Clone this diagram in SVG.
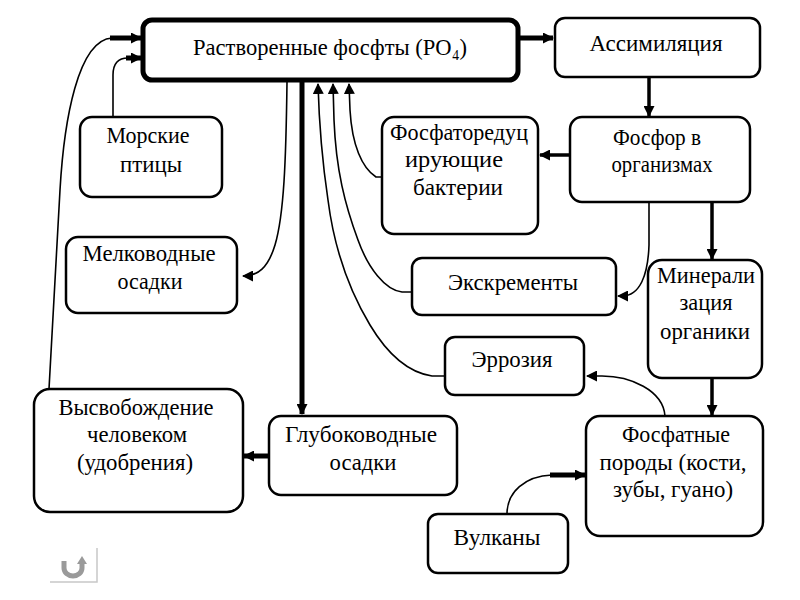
<svg xmlns="http://www.w3.org/2000/svg" width="800" height="600" viewBox="0 0 800 600">
<style>
.box{fill:#fff;stroke:#000;stroke-width:2.5}
.main{fill:#fff;stroke:#000;stroke-width:5}
text{font-family:'Liberation Serif','Times New Roman',serif;font-size:24px;fill:#000;text-anchor:middle}
.thin{fill:none;stroke:#000;stroke-width:1.6}
.thick{fill:none;stroke:#000;stroke-width:5}
.mid{fill:none;stroke:#000;stroke-width:3.5}
</style>
<defs>
<marker id="ah" markerUnits="userSpaceOnUse" markerWidth="11" markerHeight="11" refX="10" refY="5.5" orient="auto" viewBox="0 0 11 11">
<path d="M0,0 L11,5.5 L0,11 z" fill="#000"/>
</marker>
</defs>
<rect width="800" height="600" fill="#fff"/>

<g id="connectors">
<path class="thick" d="M520,38 L553,38" marker-end="url(#ah)"/>
<path class="mid" d="M649,77 L649,116" marker-end="url(#ah)"/>
<path class="mid" d="M570,155 L540,155" marker-end="url(#ah)"/>
<path class="mid" d="M712,202 L712,259" marker-end="url(#ah)"/>
<path class="thin" d="M649,202 L649,245 C648,275 640,296 622,296 L618,296" marker-end="url(#ah)"/>
<path class="mid" d="M712,378 L712,415" marker-end="url(#ah)"/>
<path class="thin" d="M665,416 C663,390 630,376 602,376 L587,376" marker-end="url(#ah)"/>
<path class="thin" d="M507,514 C507,492 525,476 552,475"/>
<path class="thick" d="M550,475 L585,475" marker-end="url(#ah)"/>
<path class="thin" d="M382,177 L376,177 C362,168 352,145 350,110 L349,84" marker-end="url(#ah)"/>
<path class="thin" d="M412,292 L402,292 C385,290 368,268 358,240 C345,205 336,170 334,120 L333,84" marker-end="url(#ah)"/>
<path class="thin" d="M445,376 L432,376 C405,372 385,350 370,325 C352,295 335,255 328,200 C322,160 319,120 318,84" marker-end="url(#ah)"/>
<path class="thin" d="M287,82 C286,160 284,215 275,245 C268,268 258,276 243,276" marker-end="url(#ah)"/>
<path class="thin" d="M113,117 L113,75 C113,64 118,58 128,58"/>
<path class="thick" d="M126,58 L141,58" marker-end="url(#ah)"/>
<path class="thin" d="M49,389 L60,190 C64,120 78,40 112,38"/>
<path class="thick" d="M110,38 L141,38" marker-end="url(#ah)"/>
<path class="thick" d="M302,82 L302,414" marker-end="url(#ah)"/>
<path class="thick" d="M269,456 L244,456" marker-end="url(#ah)"/>
</g>

<g id="n-main">
<rect class="main" x="143" y="20" width="375" height="60" rx="9"/>
<text x="330" y="55" textLength="274" lengthAdjust="spacingAndGlyphs">Растворенные фосфты (PO₄)</text>
</g>
<g id="n-assim">
<rect class="box" x="555" y="18" width="205" height="59" rx="10"/>
<text x="656" y="51" textLength="133" lengthAdjust="spacingAndGlyphs">Ассимиляция</text>
</g>
<g id="n-fosfor">
<rect class="box" x="570" y="117" width="180" height="85" rx="12"/>
<text x="657" y="145" textLength="88" lengthAdjust="spacingAndGlyphs">Фосфор в</text>
<text x="662" y="172" textLength="101" lengthAdjust="spacingAndGlyphs">организмах</text>
</g>
<g id="n-bakt">
<rect class="box" x="382" y="117" width="156" height="117" rx="12"/>
<text x="459" y="140" textLength="138" lengthAdjust="spacingAndGlyphs">Фосфаторедуц</text>
<text x="454" y="167" textLength="98" lengthAdjust="spacingAndGlyphs">ирующие</text>
<text x="458" y="195" textLength="90" lengthAdjust="spacingAndGlyphs">бактерии</text>
</g>
<g id="n-ptitsy">
<rect class="box" x="80" y="117" width="142" height="80" rx="12"/>
<text x="148" y="143" textLength="83" lengthAdjust="spacingAndGlyphs">Морские</text>
<text x="151" y="172" textLength="62" lengthAdjust="spacingAndGlyphs">птицы</text>
</g>
<g id="n-melk">
<rect class="box" x="66" y="237" width="171" height="76" rx="12"/>
<text x="149" y="261" textLength="133" lengthAdjust="spacingAndGlyphs">Мелководные</text>
<text x="150" y="289" textLength="65" lengthAdjust="spacingAndGlyphs">осадки</text>
</g>
<g id="n-ekskr">
<rect class="box" x="412" y="258" width="204" height="57" rx="10"/>
<text x="513" y="290" textLength="130" lengthAdjust="spacingAndGlyphs">Экскременты</text>
</g>
<g id="n-erroz">
<rect class="box" x="445" y="337" width="139" height="58" rx="10"/>
<text x="512" y="367" textLength="81" lengthAdjust="spacingAndGlyphs">Эррозия</text>
</g>
<g id="n-miner">
<rect class="box" x="648" y="260" width="114" height="118" rx="14"/>
<text x="706" y="283" textLength="98" lengthAdjust="spacingAndGlyphs">Минерали</text>
<text x="706" y="310" textLength="53" lengthAdjust="spacingAndGlyphs">зация</text>
<text x="705" y="339" textLength="90" lengthAdjust="spacingAndGlyphs">органики</text>
</g>
<g id="n-vysv">
<rect class="box" x="34" y="389" width="209" height="123" rx="16"/>
<text x="136" y="415" textLength="155" lengthAdjust="spacingAndGlyphs">Высвобождение</text>
<text x="137" y="442" textLength="100" lengthAdjust="spacingAndGlyphs">человеком</text>
<text x="135" y="470" textLength="116" lengthAdjust="spacingAndGlyphs">(удобрения)</text>
</g>
<g id="n-glub">
<rect class="box" x="269" y="416" width="188" height="79" rx="12"/>
<text x="361" y="442" textLength="152" lengthAdjust="spacingAndGlyphs">Глубоководные</text>
<text x="363" y="470" textLength="67" lengthAdjust="spacingAndGlyphs">осадки</text>
</g>
<g id="n-porody">
<rect class="box" x="586" y="416" width="177" height="120" rx="14"/>
<text x="676" y="442" textLength="108" lengthAdjust="spacingAndGlyphs">Фосфатные</text>
<text x="673" y="470" textLength="147" lengthAdjust="spacingAndGlyphs">породы (кости,</text>
<text x="673" y="497" textLength="120" lengthAdjust="spacingAndGlyphs">зубы, гуано)</text>
</g>
<g id="n-vulk">
<rect class="box" x="428" y="514" width="140" height="59" rx="10"/>
<text x="497" y="545" textLength="87" lengthAdjust="spacingAndGlyphs">Вулканы</text>
</g>

<g id="icon">
<path d="M97,548 L97,582 L50,582" fill="none" stroke="#c8c8c8" stroke-width="1.5"/>
<path d="M64,561 L64,568 A9,8 0 0 0 82,568 L82,563" fill="none" stroke="#9a9a9a" stroke-width="5"/>
<path d="M77,564 L82,556 L87,564 z" fill="#9a9a9a"/>
</g>
</svg>
